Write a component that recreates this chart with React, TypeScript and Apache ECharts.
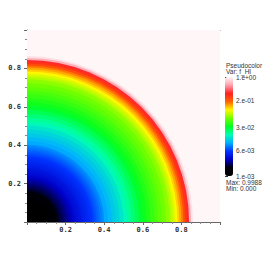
import React, { useEffect, useRef } from "react";
import * as echarts from "echarts";

// Radial profile of f_HI (log10), bands between successive radii
const bandEdges = [
  0, 0.02, 0.04, 0.06, 0.08, 0.1, 0.11, 0.12, 0.13, 0.14, 0.15, 0.16, 0.17, 0.18, 0.19, 0.2,
  0.21, 0.22, 0.23, 0.24, 0.25, 0.26, 0.27, 0.28, 0.29, 0.3, 0.31, 0.32, 0.33, 0.34, 0.35,
  0.36, 0.37, 0.38, 0.39, 0.4, 0.42, 0.44, 0.46, 0.48, 0.5, 0.52, 0.54, 0.56, 0.58, 0.6,
  0.62, 0.64, 0.66, 0.68, 0.7, 0.72, 0.74, 0.75, 0.76, 0.77, 0.78, 0.79, 0.8, 0.81, 0.82,
  0.83, 0.84, 0.85, 0.86, 0.87, 0.88, 1.5,
];
const bandLogValue = [
  -3, -3, -2.99, -2.98, -2.96, -2.93, -2.9, -2.87, -2.83, -2.79, -2.75, -2.71, -2.67, -2.64,
  -2.61, -2.58, -2.55, -2.52, -2.49, -2.46, -2.43, -2.41, -2.39, -2.36, -2.34, -2.32, -2.3,
  -2.27, -2.25, -2.22, -2.19, -2.16, -2.13, -2.1, -2.07, -2.01, -1.97, -1.92, -1.88, -1.83,
  -1.77, -1.71, -1.65, -1.59, -1.53, -1.47, -1.43, -1.38, -1.34, -1.29, -1.25, -1.2, -1.14,
  -1.1, -1.05, -1.0, -0.93, -0.86, -0.78, -0.66, -0.57, -0.48, -0.21, -0.06, 0, 0, 0,
];

const axisTicks = [0, 0.2, 0.4, 0.6, 0.8, 1.0];
const colorbarTickValues = [1, 0.2, 0.03, 0.006, 0.001];
const colorbarTickLabels = ["1.e+00", "2.e-01", "3.e-02", "6.e-03", "1.e-03"];
const legendTitle = "Pseudocolor";
const legendVar = "Var: f_HI";
const maxLabel = "Max: 0.9988";
const minLabel = "Min: 0.000";

const colormap = [
  "#000000", "#000008", "#0000c8", "#0033ff", "#00b0ff", "#00ffb0", "#00ff21",
  "#70ff00", "#fff800", "#ff6600", "#ff2020", "#ffa0ac", "#fff6f7",
];

export default function App() {
  const ref = useRef<HTMLDivElement>(null);
  useEffect(() => {
    if (!ref.current) return;
    const chart = echarts.init(ref.current, null, { renderer: "svg" });
    // outermost band first so that inner (full) sectors are painted over it
    const data = bandLogValue.map((v, i) => [bandEdges[i], bandEdges[i + 1], v]).reverse();
    const logTicks = colorbarTickValues.map((v) => Math.log10(v));
    const tickFont = { fontFamily: "DejaVu Sans Mono", fontSize: 7, fontWeight: "bold" as const, color: "#333" };
    const labelFont = { fontFamily: "Liberation Sans", fontSize: 6.5, color: "#333" };
    chart.setOption({
      animation: false,
      backgroundColor: "#ffffff",
      grid: [
        { left: 27, top: 30, width: 193, height: 192, show: false },
        { left: 225, top: 77, width: 8, height: 99, show: false },
      ],
      xAxis: [
        {
          gridIndex: 0, type: "value", min: axisTicks[0], max: axisTicks[axisTicks.length - 1], interval: 0.2,
          position: "bottom",
          axisLine: { show: true, lineStyle: { color: "#666", width: 1 } },
          axisTick: { show: true, inside: false, length: 3, lineStyle: { color: "#666" } },
          minorTick: { show: true, splitNumber: 4, length: 2, lineStyle: { color: "#888" } },
          axisLabel: {
            ...tickFont, margin: 4,
            formatter: (v: number) => (v === 0 || v === 1 ? "" : v.toFixed(1)),
          },
          splitLine: { show: false },
        },
        {
          gridIndex: 0, type: "value", min: 0, max: 1, position: "top",
          axisLine: { show: true, lineStyle: { color: "#666", width: 1 } },
          axisTick: { show: false }, axisLabel: { show: false }, splitLine: { show: false },
        },
        { gridIndex: 1, type: "value", min: 0, max: 1, show: false },
      ],
      yAxis: [
        {
          gridIndex: 0, type: "value", min: 0, max: 1, interval: 0.2, position: "left",
          axisLine: { show: true, lineStyle: { color: "#666", width: 1 } },
          axisTick: { show: true, inside: false, length: 3, lineStyle: { color: "#666" } },
          minorTick: { show: true, splitNumber: 4, length: 2, lineStyle: { color: "#888" } },
          axisLabel: {
            ...tickFont, margin: 6,
            formatter: (v: number) => (v === 0 || v === 1 ? "" : v.toFixed(1)),
          },
          splitLine: { show: false },
        },
        {
          gridIndex: 1, type: "value", min: -3, max: 0, position: "right",
          axisLine: { show: false },
          axisTick: { show: true, length: 3, customValues: logTicks, lineStyle: { color: "#333" } },
          axisLabel: {
            ...labelFont, margin: 3, customValues: logTicks,
            formatter: (v: number) => {
              let best = 0;
              logTicks.forEach((t, i) => { if (Math.abs(t - v) < Math.abs(logTicks[best] - v)) best = i; });
              return colorbarTickLabels[best];
            },
          },
          splitLine: { show: false },
        },
      ],
      visualMap: {
        type: "continuous", min: -3, max: 0, dimension: 2, seriesIndex: 0,
        show: true, calculable: false, orient: "vertical",
        itemWidth: 8, itemHeight: 99, left: 220, top: 72, padding: 5,
        inRange: { color: colormap },
        hoverLink: false,
      },
      series: [
        {
          type: "custom", xAxisIndex: 0, yAxisIndex: 0, clip: true,
          data,
          renderItem: (params: any, api: any) => {
            const c = api.coord([0, 0]);
            const r1 = api.coord([api.value(1), 0])[0] - c[0];
            const col = api.visual("color");
            return {
              type: "sector",
              shape: { cx: c[0], cy: c[1], r0: 0, r: r1, startAngle: -Math.PI / 2, endAngle: 0, clockwise: true },
              style: { fill: col },
            };
          },
        },
      ],
      graphic: [
        { type: "text", x: 226, y: 65, style: { text: legendTitle, ...labelFont, fill: "#333", verticalAlign: "middle" } },
        { type: "text", x: 226, y: 71.5, style: { text: legendVar, ...labelFont, fill: "#333", verticalAlign: "middle" } },
        { type: "text", x: 226, y: 182, style: { text: maxLabel, ...labelFont, fill: "#333", verticalAlign: "middle" } },
        { type: "text", x: 226, y: 188, style: { text: minLabel, ...labelFont, fill: "#333", verticalAlign: "middle" } },
      ],
    });
    return () => chart.dispose();
  }, []);
  return <div ref={ref} style={{ position: "fixed", left: 0, top: 0, width: 275, height: 262 }} />;
}
